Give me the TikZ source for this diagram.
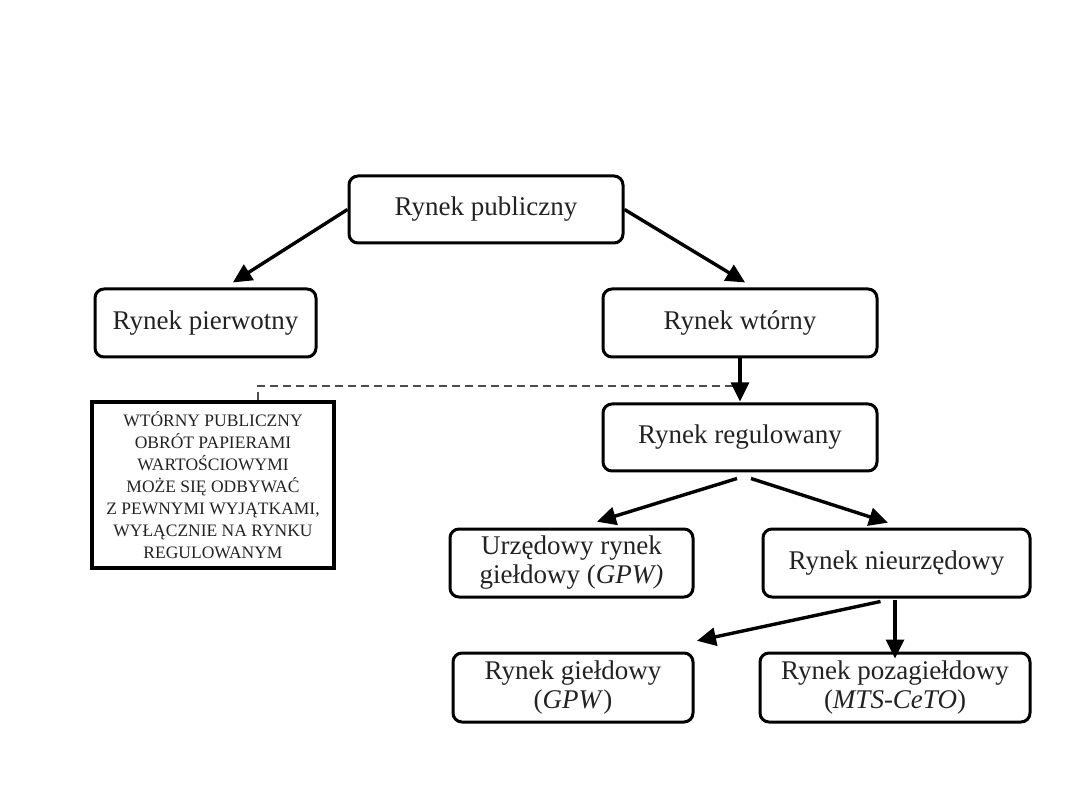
\documentclass[tikz,border=0pt]{standalone}
\usepackage{fontspec}
\setmainfont{Liberation Serif}
\usetikzlibrary{arrows.meta}
\definecolor{txt}{HTML}{222222}
\tikzset{
  box/.style={draw=black, line width=3pt, rounded corners=9pt, inner sep=0pt, text=txt,
    font=\fontsize{27}{29}\selectfont, align=center},
  note/.style={draw=black, line width=3.5pt, inner sep=0pt, text=txt,
    font=\fontsize{17.5}{22}\selectfont, align=center},
  arr/.style={line width=3.4pt, -{Triangle[length=19pt,width=18pt]}, shorten >=1pt},
  dashline/.style={draw=black!70, line width=1.2pt, dash pattern=on 8pt off 5pt}
}
\begin{document}
\begin{tikzpicture}[x=1pt,y=-1pt]
\useasboundingbox (0,0) rectangle (1080,810);
\node[box, minimum width=274pt, minimum height=67pt] (pub) at (486,209.5) {Rynek publiczny};
\node[box, minimum width=221pt, minimum height=68pt] (pie) at (205.5,323) {Rynek pierwotny};
\node[box, minimum width=274pt, minimum height=68pt] (wto) at (740,323) {Rynek wtórny};
\node[box, minimum width=274pt, minimum height=67pt] (reg) at (740,437.5) {Rynek regulowany};
\node[box, minimum width=243pt, minimum height=68pt] (urz) at (571.5,563) {Urzędowy rynek\\giełdowy (\textit{GPW)}};
\node[box, minimum width=267pt, minimum height=68pt] (nie) at (896.5,563) {Rynek nieurzędowy};
\node[box, minimum width=240pt, minimum height=69pt] (gie) at (573,687.5) {Rynek giełdowy\\(\textit{GPW})};
\node[box, minimum width=270pt, minimum height=69pt] (poz) at (895,687.5) {Rynek pozagiełdowy\\(\textit{MTS-CeTO})};
\node[note, minimum width=242pt, minimum height=166pt] (nt) at (213,485) {WTÓRNY PUBLICZNY\\OBRÓT PAPIERAMI\\WARTOŚCIOWYMI\\MOŻE SIĘ ODBYWAĆ\\Z PEWNYMI WYJĄTKAMI,\\WYŁĄCZNIE NA RYNKU\\REGULOWANYM};
\coordinate (dc) at (258,386);
\coordinate (de) at (737,386);
\coordinate (pt) at (895,600);
\draw[dashline] (nt.north -| dc) -- (dc) -- (de);
\draw[arr] (pub.west) -- (232,283);
\draw[arr] (pub.east) -- (746,283);
\draw[arr] (wto.south) -- (reg.north);
\draw[arr] ([xshift=-3pt,yshift=-6pt]reg.south) -- (596,522);
\draw[arr] ([xshift=11pt,yshift=-6pt]reg.south) -- (889,523);
\draw[arr] ([xshift=-16pt,yshift=-3pt]nie.south) -- (696,641);
\draw[arr] (pt) -- ([yshift=-8pt]poz.north -| pt);
\end{tikzpicture}
\end{document}
